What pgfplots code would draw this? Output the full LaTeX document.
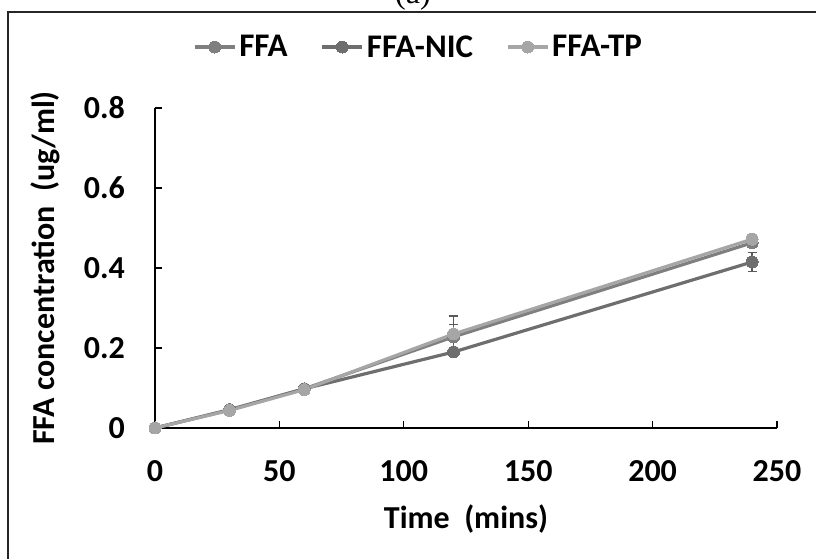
\documentclass[border=0pt]{standalone}
\usepackage{fontspec}
\setmainfont{Carlito}
\usepackage{pgfplots}
\pgfplotsset{compat=1.18}
\definecolor{cffa}{HTML}{7F7F7F}
\definecolor{cnic}{HTML}{6E6E6E}
\definecolor{ctp}{HTML}{A6A6A6}
\newcommand{\bigfont}{\bfseries\fontsize{32}{38}\selectfont}
\newcommand{\legfont}{\bfseries\fontsize{33}{38}\selectfont}

\begin{document}
\begin{tikzpicture}[x=1pt,y=1pt]
\useasboundingbox (0,0) rectangle (816,559);
% outer chart frame (cropped in the reference)
\draw[line width=1.5pt, black!85] (8,-5) -- (8,547) -- (820,547);
\node[font=\fontsize{32}{36}\selectfont\setmainfont{Liberation Serif}, anchor=base] at (413,555) {(a)};
\begin{axis}[
    at={(155pt,131pt)}, anchor=south west,
    scale only axis, width=622pt, height=320pt,
    xmin=0, xmax=250, ymin=0, ymax=0.8,
    axis x line=bottom, axis y line=left,
    axis line style={line width=1.3pt, black, -},
    tick style={line width=1.3pt, black},
    major tick length=7pt, tick align=inside,
    xtick={0,50,100,150,200,250},
    xticklabels={0,50,100,150,200,250},
    ytick={0,0.2,0.4,0.6,0.8},
    yticklabels={0,0.2,0.4,0.6,0.8},
    xticklabel style={font=\bigfont, inner sep=0pt, anchor=north, yshift=-32pt},
    yticklabel style={font=\bigfont, inner sep=0pt, anchor=east, xshift=-30pt},
    xlabel={Time\ \ (mins)},
    ylabel={FFA concentration\ \ (ug/ml)},
    xlabel style={font=\bigfont, at={([yshift=-100pt]axis description cs:0.5,0)}, anchor=base},
    ylabel style={font=\bigfont, at={([xshift=-100pt]axis description cs:0,0.5)}, anchor=base},
    clip=false,
    legend columns=3,
    legend style={at={(axis description cs:0.4244,1.1906)}, anchor=center,
        draw=none, fill=none, font=\legfont, inner sep=0pt,
        nodes={inner sep=3pt},
        /tikz/every even column/.append style={column sep=30pt}},
    legend image code/.code={\draw[mark repeat=2,mark phase=2,#1]
        plot coordinates {(0pt,0pt) (20pt,0pt) (40pt,0pt)};},
]
\addplot[cffa, line width=3.2pt, mark=*, mark size=6pt,
    mark options={fill=cffa, draw=cffa, line width=0pt},
    error bars/.cd, y dir=both, y explicit,
    error bar style={line width=1.4pt, black!65},
    error mark options={rotate=90, mark size=4.5pt, line width=1.4pt, black!65}]
    coordinates {(0,0) +- (0,0) (30,0.046) +- (0,0.003) (60,0.098) +- (0,0.003)
                 (120,0.228) +- (0,0.030) (240,0.463) +- (0,0.008)};
\addlegendentry{FFA}
\addplot[cnic, line width=3.2pt, mark=*, mark size=6pt,
    mark options={fill=cnic, draw=cnic, line width=0pt},
    error bars/.cd, y dir=both, y explicit,
    error bar style={line width=1.4pt, black!65},
    error mark options={rotate=90, mark size=4.5pt, line width=1.4pt, black!65}]
    coordinates {(0,0) +- (0,0) (30,0.045) +- (0,0.003) (60,0.098) +- (0,0.003)
                 (120,0.190) +- (0,0.006) (240,0.415) +- (0,0.024)};
\addlegendentry{FFA-NIC}
\addplot[ctp, line width=3.2pt, mark=*, mark size=6pt,
    mark options={fill=ctp, draw=ctp, line width=0pt},
    error bars/.cd, y dir=both, y explicit,
    error bar style={line width=1.4pt, black!65},
    error mark options={rotate=90, mark size=4.5pt, line width=1.4pt, black!65}]
    coordinates {(0,0) +- (0,0) (30,0.044) +- (0,0.003) (60,0.096) +- (0,0.003)
                 (120,0.235) +- (0,0.045) (240,0.472) +- (0,0.006)};
\addlegendentry{FFA-TP}
\end{axis}
\end{tikzpicture}
\end{document}
